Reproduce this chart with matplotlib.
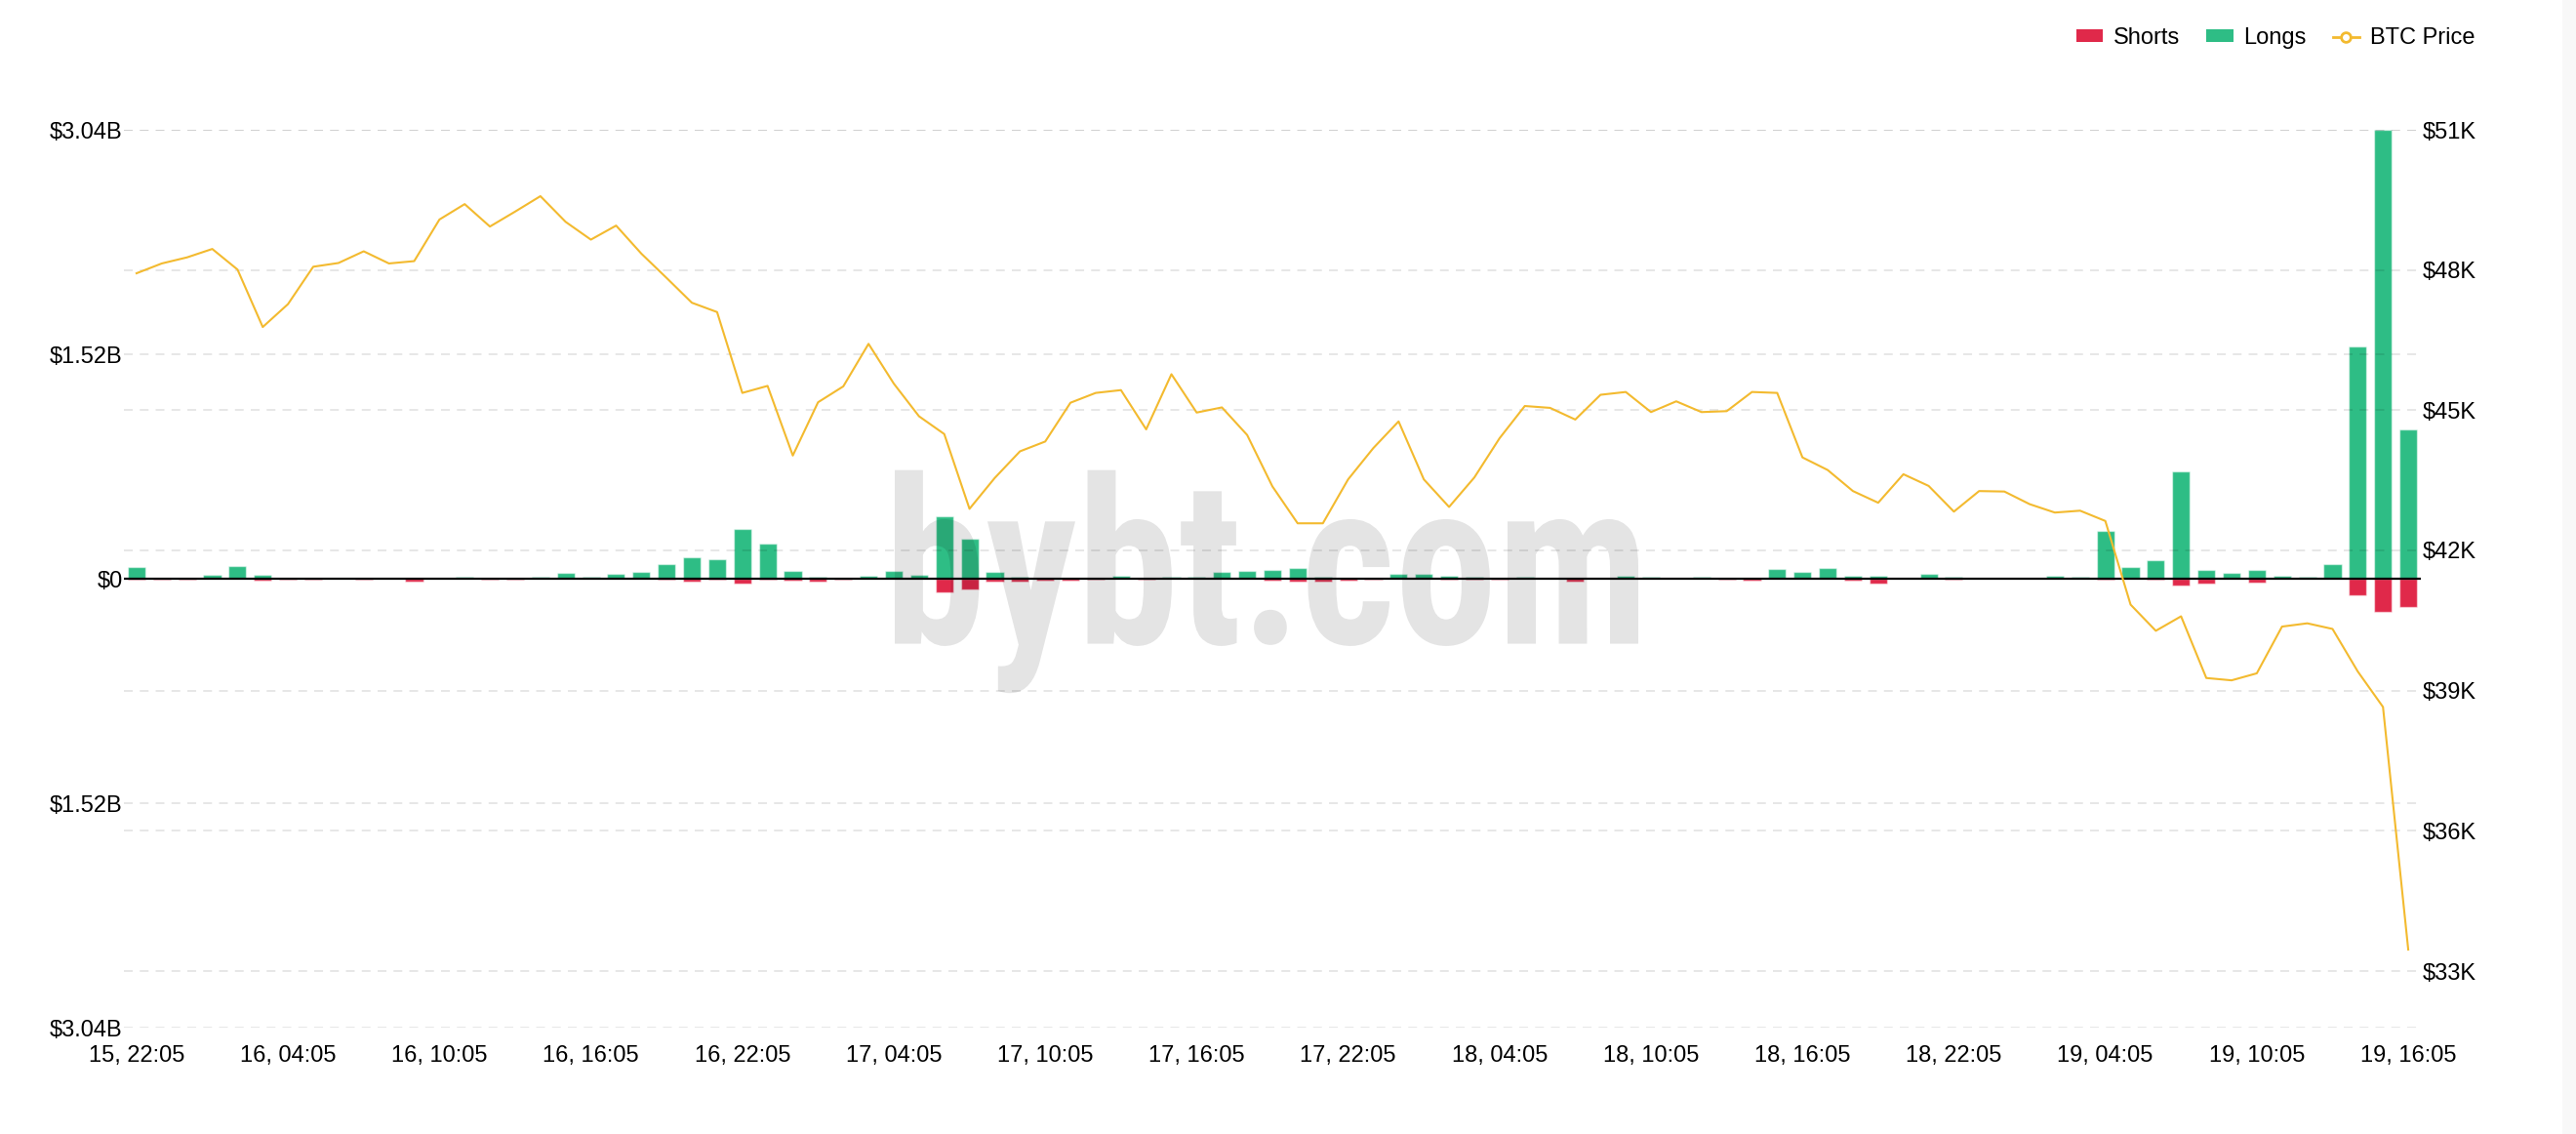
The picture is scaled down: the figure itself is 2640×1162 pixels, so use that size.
import numpy as np
import pandas as pd
import matplotlib
matplotlib.use('Agg')
import matplotlib.pyplot as plt
from matplotlib import font_manager
from matplotlib.lines import Line2D
from matplotlib.patches import Patch, PathPatch, Rectangle
from matplotlib.textpath import TextPath
from matplotlib.transforms import Affine2D

plt.rcParams['font.family'] = ['Liberation Sans', 'DejaVu Sans']

RED = '#e0294a'
GREEN = '#2ebd85'
YELLOW = '#f3ba2f'

# hourly buckets, 15th 22:05 -> 19th 16:05
times = pd.date_range('2021-05-15 22:05', periods=91, freq='h')

# liquidations in billions USD
longs = [0.079, 0.007, 0.004, 0.026, 0.084, 0.029, 0.007, 0.004, 0.009, 0.004,
         0.006, 0.006, 0.009, 0.011, 0.002, 0.002, 0.015, 0.040, 0.015, 0.035,
         0.044, 0.097, 0.148, 0.130, 0.337, 0.238, 0.053, 0.011, 0.007, 0.018,
         0.053, 0.029, 0.421, 0.269, 0.046, 0.015, 0.007, 0.009, 0.007, 0.022,
         0.004, 0.013, 0.015, 0.044, 0.055, 0.060, 0.072, 0.014, 0.009, 0.003,
         0.034, 0.032, 0.017, 0.011, 0.006, 0.011, 0.003, 0.009, 0.006, 0.017,
         0.014, 0.009, 0.014, 0.003, 0.003, 0.066, 0.043, 0.072, 0.017, 0.017,
         0.009, 0.034, 0.011, 0.009, 0.009, 0.009, 0.020, 0.011, 0.327, 0.077,
         0.126, 0.730, 0.057, 0.040, 0.060, 0.017, 0.014, 0.097, 1.575, 3.040,
         1.010]
shorts = [0.005, 0.007, 0.007, 0.002, 0.002, 0.011, 0.009, 0.004, 0.002, 0.007,
          0.002, 0.018, 0.002, 0.002, 0.007, 0.007, 0.002, 0.002, 0.002, 0.002,
          0.002, 0.007, 0.020, 0.009, 0.035, 0.009, 0.013, 0.020, 0.009, 0.002,
          0.002, 0.002, 0.093, 0.073, 0.018, 0.022, 0.013, 0.011, 0.005, 0.002,
          0.009, 0.002, 0.002, 0.002, 0.002, 0.013, 0.017, 0.020, 0.011, 0.009,
          0.003, 0.003, 0.004, 0.009, 0.006, 0.003, 0.003, 0.020, 0.003, 0.003,
          0.003, 0.003, 0.003, 0.006, 0.014, 0.003, 0.003, 0.003, 0.011, 0.032,
          0.003, 0.003, 0.006, 0.003, 0.003, 0.003, 0.003, 0.003, 0.006, 0.003,
          0.006, 0.049, 0.034, 0.003, 0.026, 0.003, 0.003, 0.003, 0.113, 0.222,
          0.190]
# BTC price in thousands USD
btc_price = [47.93, 48.14, 48.27, 48.45, 48.01, 46.78, 47.27, 48.07, 48.15, 48.40,
             48.14, 48.19, 49.08, 49.41, 48.93, 49.25, 49.58, 49.03, 48.65, 48.95,
             48.35, 47.83, 47.30, 47.10, 45.37, 45.52, 44.03, 45.17, 45.51, 46.42,
             45.57, 44.87, 44.49, 42.89, 43.55, 44.12, 44.33, 45.16, 45.37, 45.43,
             44.59, 45.77, 44.95, 45.06, 44.47, 43.37, 42.58, 42.58, 43.52, 44.19,
             44.76, 43.52, 42.93, 43.56, 44.40, 45.09, 45.05, 44.80, 45.33, 45.39,
             44.96, 45.19, 44.96, 44.98, 45.39, 45.37, 43.99, 43.72, 43.27, 43.02,
             43.63, 43.38, 42.83, 43.27, 43.26, 42.99, 42.81, 42.85, 42.63, 40.84,
             40.28, 40.59, 39.27, 39.22, 39.37, 40.37, 40.44, 40.32, 39.41, 38.65,
             33.46]

left_ticks = [-3.04, -1.52, 0, 1.52, 3.04]
right_ticks = [33, 36, 39, 42, 45, 48, 51]

W, H = 2640, 1162
fig = plt.figure(figsize=(W / 100, H / 100), dpi=100)
fig.patches.append(Rectangle((2626 / W, 0), 14 / W, 1, transform=fig.transFigure,
                             facecolor='#f8f8f8', edgecolor='none', zorder=0))

ax = fig.add_axes([127 / W, 1 - 1053 / H, (2481 - 127) / W, (1053 - 133) / H])
x = np.arange(len(times))
ax.bar(x, longs, width=0.7, color=GREEN, edgecolor=(1, 1, 1, 0.5), linewidth=1, zorder=2)
ax.bar(x, [-s for s in shorts], width=0.7, color=RED, edgecolor=(1, 1, 1, 0.5), linewidth=1, zorder=2)
ax.axhline(0, color='black', lw=1.6, zorder=4)
ax.set_xlim(-0.5, len(times) - 0.5)
ax.set_ylim(-3.04, 3.04)
ax.set_yticks(left_ticks)
ax.set_yticklabels(['$0' if v == 0 else '$%.2fB' % abs(v) for v in left_ticks])
ax.set_xticks(x[::6])
ax.set_xticklabels(times[::6].strftime('%d, %H:%M'))
ax.set_axisbelow(False)
ax.yaxis.grid(True, color='black', alpha=0.1, linestyle=(0, (5, 4)), linewidth=1.3)
ax.tick_params(axis='y', length=0, pad=1, labelsize=17)
ax.tick_params(axis='x', length=0, pad=13, labelsize=17)
for s in ax.spines.values():
    s.set_visible(False)


# watermark: heaviest available sans, squeezed into the box
def pick_font():
    for name, weight, tag in [('Roboto Condensed', 'bold', 'Bold'),
                              ('Roboto', 'black', 'Black'),
                              ('Roboto', 'bold', 'Bold')]:
        fp = font_manager.FontProperties(family=name, weight=weight)
        try:
            path = font_manager.findfont(fp, fallback_to_default=False)
        except ValueError:
            continue
        if tag in path:
            return fp
    return font_manager.FontProperties(family='DejaVu Sans', weight='bold')


tp = TextPath((0, 0), 'bybt.com', size=100, prop=pick_font())
ext = tp.get_extents()
sx = (1679 - 917) / W / (ext.x1 - ext.x0)
sy = (659.6 - 481.7) / H / ext.y1
trans = Affine2D().translate(-ext.x0, 0).scale(sx, sy).translate(917 / W, 1 - 659.6 / H) + fig.transFigure
ax.add_artist(PathPatch(tp, transform=trans, facecolor='black', alpha=0.105,
                        edgecolor='none', zorder=3, clip_on=False))

ax2 = ax.twinx()
ax2.plot(x, btc_price, color=YELLOW, lw=1.5, zorder=3)
ax2.set_ylim(51 - 920 / (862 / 18), 51)
ax2.set_yticks(right_ticks)
ax2.set_yticklabels(['$%dK' % v for v in right_ticks])
ax2.yaxis.grid(True, color='black', alpha=0.1, linestyle=(0, (5, 4)), linewidth=1.3)
ax2.tick_params(axis='y', length=0, pad=1, labelsize=17)
for s in ax2.spines.values():
    s.set_visible(False)

handles = [Patch(facecolor=RED, edgecolor='none'),
           Patch(facecolor=GREEN, edgecolor='none'),
           Line2D([], [], color=YELLOW, lw=2, marker='o', ms=7, mfc='white', mec=YELLOW, mew=2)]
fig.legend(handles, ['Shorts', 'Longs', 'BTC Price'], loc='center right',
           bbox_to_anchor=(2536 / W, 1 - 39 / H), ncol=3, frameon=False, fontsize=17,
           handlelength=1.15, handleheight=0.45, handletextpad=0.45, columnspacing=1.15,
           borderpad=0, borderaxespad=0)

fig.savefig('out.png', dpi=100)
